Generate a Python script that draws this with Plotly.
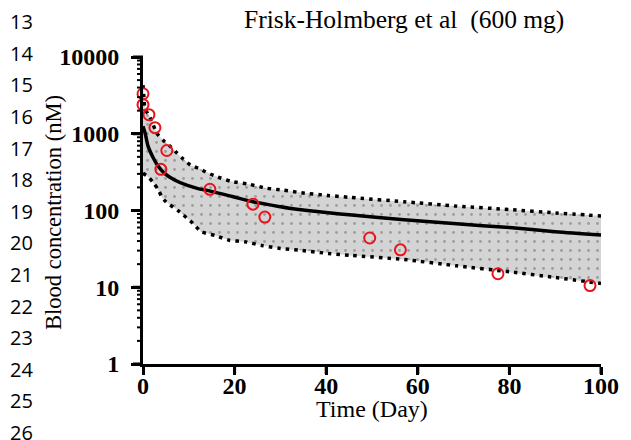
import math
import plotly.graph_objects as go

# ---------------- data ----------------
obs_day = [0.0, 0.0, 1.3, 2.6, 3.9, 5.2, 14.6, 24.0, 26.6, 49.5, 56.2, 77.5, 97.6]
obs_conc = [3320, 2390, 1770, 1200, 344, 605, 189, 121, 82, 43.8, 30.7, 15.0, 10.5]

median_day = [0, 0.5, 1.1, 2.2, 3.2, 4.7, 6.9, 9.7, 12, 14.5, 19.5, 24.2, 30, 34, 40, 45, 57, 68.5, 80, 90, 100]
median_conc = [1250, 1000, 690, 490, 385, 305, 250, 212, 193, 180, 152, 129, 112, 103, 94, 88, 76, 67, 60, 53, 48]

upper_day = [0, 0.2, 0.43, 1.5, 3.1, 4.4, 6.1, 7.4, 8.6, 10.4, 12.3, 13.7, 15.5, 19.2, 23.1, 27,
             30.7, 34.6, 40.4, 45.4, 57, 68.5, 80, 90, 100]
upper_conc = [4300, 3000, 2120, 1650, 1000, 820, 671, 561, 479, 390, 352, 318, 285, 240, 220, 195,
              184, 170, 157, 148, 130, 114, 103, 93, 85]

lower_day = [0, 1.15, 2.4, 3.4, 4.1, 5.0, 8.0, 10.9, 12.7, 15.9, 18.8, 22.4, 25.9, 30, 33.9,
             40.4, 45.4, 57, 68.5, 80, 90, 100]
lower_conc = [305, 274, 224, 184, 150, 130, 96, 68, 53, 47, 41, 39, 35, 32, 30.5,
              27.6, 26, 23, 19, 15.9, 13.4, 11.2]

x_ticks = [0, 20, 40, 60, 80, 100]
y_ticks = [1, 10, 100, 1000, 10000]
y_ticklabels = ["1", "10", "100", "1000", "10000"]
y_minor_ticks = [m * d for d in y_ticks[:-1] for m in (2, 3, 4, 5, 6, 7, 8, 9)]
Y_LOG_RANGE = [0, 4]

line_numbers = ["13", "14", "15", "16", "17", "18", "19", "20", "21", "22", "23", "24", "25", "26"]

title_text = "Frisk-Holmberg et al\u00a0 (600 mg)"
x_title = "Time (Day)"
y_title = "Blood concentration (nM)"

# ---------------- layout geometry ----------------
W, H = 631, 440
ML, MR, MT, MB = 143, 25, 57, 76
PW, PH = W - ML - MR, H - MT - MB


def px_x(px):
    return (px - ML) / PW


def px_y(py):
    return (H - MB - py) / PH


def y_dom(v):
    return (math.log10(v) - Y_LOG_RANGE[0]) / (Y_LOG_RANGE[1] - Y_LOG_RANGE[0])


SERIF = "Liberation Serif, Times New Roman, serif"

fig = go.Figure()

# band: lower edge then upper edge filled to it
fig.add_trace(go.Scatter(x=lower_day, y=lower_conc, mode="lines",
                         line=dict(color="rgba(0,0,0,0)", width=0),
                         hoverinfo="skip", showlegend=False))
fig.add_trace(go.Scatter(x=upper_day, y=upper_conc, mode="lines",
                         line=dict(color="rgba(0,0,0,0)", width=0),
                         fill="tonexty", fillcolor="#d4d4d4",
                         fillpattern=dict(shape=".", bgcolor="#d4d4d4", fgcolor="#666666",
                                          size=9, solidity=0.08),
                         hoverinfo="skip", showlegend=False))
# dotted boundaries
for xs, ys in ((upper_day, upper_conc), (lower_day, lower_conc)):
    fig.add_trace(go.Scatter(x=xs, y=ys, mode="lines",
                             line=dict(color="black", width=3.5, dash="3.5px,5px", shape="spline",
                                       smoothing=0.6),
                             showlegend=False))
# median
fig.add_trace(go.Scatter(x=median_day, y=median_conc, mode="lines",
                         line=dict(color="black", width=3.5, shape="spline", smoothing=0.8),
                         showlegend=False))
# observations
fig.add_trace(go.Scatter(x=obs_day, y=obs_conc, mode="markers",
                         marker=dict(symbol="circle-open", size=11, color="#e8141c",
                                     line=dict(width=2, color="#e8141c")),
                         cliponaxis=False, showlegend=False))

annotations = [
    dict(text=title_text, x=px_x(407), y=px_y(20), xref="paper", yref="paper",
         xanchor="center", yanchor="middle", showarrow=False,
         font=dict(family=SERIF, size=25.5, color="black")),
    dict(text=x_title, x=px_x(375), y=px_y(409), xref="paper", yref="paper",
         xanchor="center", yanchor="middle", showarrow=False,
         font=dict(family=SERIF, size=24, color="black")),
    dict(text=y_title, x=px_x(52), y=px_y(212), xref="paper", yref="paper",
         xanchor="center", yanchor="middle", showarrow=False, textangle=-90,
         font=dict(family=SERIF, size=22.5, color="black")),
]
for i, ln in enumerate(line_numbers):
    annotations.append(dict(text=ln, x=px_x(7), y=px_y(21.7 + 31.6 * i), xref="paper", yref="paper",
                            xanchor="left", yanchor="middle", showarrow=False,
                            font=dict(family="Open Sans, Noto Sans, sans-serif", size=20,
                                      color="black")))

# tick marks (drawn as pixel-sized shapes anchored at the axes)
shapes = []
for v in x_ticks:
    shapes.append(dict(type="line", xref="x", x0=v, x1=v, yref="paper", ysizemode="pixel",
                       yanchor=0, y0=0, y1=-10, line=dict(color="black", width=3), layer="above"))
for v in y_ticks:
    shapes.append(dict(type="line", yref="y domain", y0=y_dom(v), y1=y_dom(v), xref="paper",
                       xsizemode="pixel", xanchor=0, x0=0, x1=-10,
                       line=dict(color="black", width=3), layer="above"))
for v in y_minor_ticks:
    shapes.append(dict(type="line", yref="y domain", y0=y_dom(v), y1=y_dom(v), xref="paper",
                       xsizemode="pixel", xanchor=0, x0=0, x1=-6,
                       line=dict(color="black", width=2), layer="above"))

fig.update_layout(
    width=W, height=H,
    margin=dict(l=ML, r=MR, t=MT, b=MB, pad=0),
    paper_bgcolor="white", plot_bgcolor="white",
    showlegend=False,
    annotations=annotations,
    shapes=shapes,
    xaxis=dict(range=[0, 100], tickmode="array", tickvals=x_ticks,
               ticktext=[str(v) for v in x_ticks],
               showgrid=False, zeroline=False, showline=True, linewidth=3, linecolor="black",
               ticks="outside", ticklen=8, tickwidth=3, tickcolor="black",
               ticklabelstandoff=-10,
               tickfont=dict(family=SERIF, size=24, color="black", weight="bold"),
               fixedrange=True),
    yaxis=dict(type="log", range=Y_LOG_RANGE, tickmode="array", tickvals=y_ticks,
               ticktext=y_ticklabels,
               showgrid=False, zeroline=False, showline=True, linewidth=3, linecolor="black",
               ticks="outside", ticklen=9, tickwidth=3, tickcolor="black",
               ticklabelstandoff=7,
               tickfont=dict(family=SERIF, size=24, color="black", weight="bold"),
               fixedrange=True),
)

fig.write_html("out.html")
